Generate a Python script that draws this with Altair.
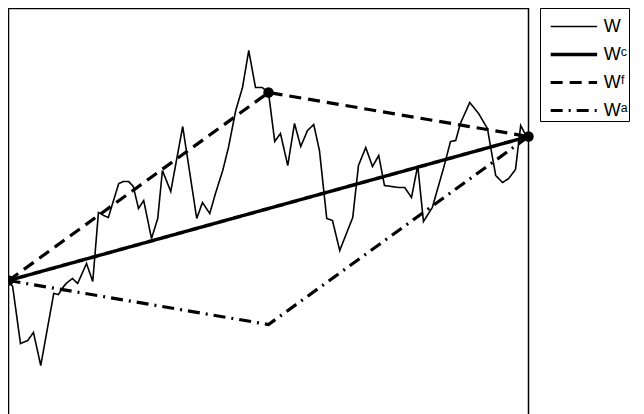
import altair as alt
import pandas as pd

# Brownian path W (t in [0,1])
w_t = [0.000, 0.008, 0.023, 0.037, 0.048, 0.062, 0.087, 0.096, 0.106, 0.113,
       0.123, 0.133, 0.150, 0.162, 0.173, 0.183, 0.192, 0.202, 0.212, 0.221,
       0.231, 0.240, 0.250, 0.260, 0.275, 0.287, 0.296, 0.312, 0.335, 0.362,
       0.373, 0.387, 0.398, 0.412, 0.423, 0.437, 0.450, 0.462, 0.475, 0.488,
       0.500, 0.512, 0.523, 0.537, 0.550, 0.562, 0.575, 0.587, 0.598, 0.612,
       0.623, 0.637, 0.662, 0.673, 0.687, 0.700, 0.712, 0.723, 0.750, 0.762,
       0.775, 0.787, 0.798, 0.815, 0.837, 0.850, 0.860, 0.869, 0.887, 0.904,
       0.921, 0.929, 0.937, 0.950, 0.962, 0.975, 0.985, 0.992, 1.000]
w_v = [0.00, -0.06, -0.63, -0.60, -0.52, -0.85, -0.13, -0.14, -0.06, -0.02,
       0.02, -0.03, 0.17, -0.01, 0.68, 0.65, 0.63, 0.80, 0.97, 0.99,
       0.99, 0.94, 0.72, 0.80, 0.42, 0.62, 1.10, 0.89, 1.54, 0.62,
       0.78, 0.67, 0.87, 1.10, 1.33, 1.70, 1.93, 2.30, 1.93, 1.93,
       1.88, 1.39, 1.47, 1.15, 1.57, 1.34, 1.50, 1.56, 1.30, 0.62,
       0.60, 0.30, 0.63, 1.15, 1.33, 1.14, 1.25, 0.95, 0.93, 0.93,
       0.83, 1.15, 0.59, 0.73, 1.13, 1.39, 1.40, 1.57, 1.78, 1.67,
       1.52, 1.28, 1.05, 0.98, 1.02, 1.11, 1.55, 1.48, 1.44]

wc_t = [0.0, 1.0]
wc_v = [0.00, 1.44]
wf_t = [0.0, 0.5, 1.0]
wf_v = [0.00, 1.88, 1.44]
wa_t = [0.0, 0.5, 1.0]
wa_v = [0.00, -0.44, 1.44]

dot_t = [0.0, 0.5, 1.0]
dot_v = [0.00, 1.88, 1.44]

series = ["W", "Wᶜ", "Wᶠ", "Wᵃ"]

rows = []
for name, ts, vs in zip(series, [w_t, wc_t, wf_t, wa_t], [w_v, wc_v, wf_v, wa_v]):
    for i, (t, v) in enumerate(zip(ts, vs)):
        rows.append({"s": name, "t": t, "v": v, "o": i})
df = pd.DataFrame(rows)
dots = pd.DataFrame({"t": dot_t, "v": dot_v})

xs = alt.Scale(domain=[0, 1], nice=False, zero=False)
ys = alt.Scale(domain=[-1.68, 2.72], nice=False, zero=False)

lines = alt.Chart(df).mark_line(color="black", clip=True).encode(
    x=alt.X("t:Q", scale=xs, axis=None),
    y=alt.Y("v:Q", scale=ys, axis=None),
    order="o:Q",
    strokeDash=alt.StrokeDash(
        "s:N",
        scale=alt.Scale(domain=series, range=[[1, 0], [1, 0], [12, 7], [12, 6, 2, 6]]),
        legend=alt.Legend(title=None),
    ),
    strokeWidth=alt.StrokeWidth(
        "s:N",
        scale=alt.Scale(type="ordinal", domain=series, range=[1.6, 3.5, 3.2, 3.2]),
        legend=alt.Legend(title=None),
    ),
)

pts = alt.Chart(dots).mark_circle(color="black", opacity=1, size=110).encode(
    x=alt.X("t:Q", scale=xs, axis=None),
    y=alt.Y("v:Q", scale=ys, axis=None),
)

chart = (
    alt.layer(lines, pts)
    .properties(
        width=520,
        height=440,
        autosize=alt.AutoSizeParams(type="none"),
        padding={"left": 0.5, "top": 0.5, "right": 107.5, "bottom": 0},
    )
    .configure_view(stroke="black", strokeWidth=1.5)
    .configure_legend(
        orient="none",
        legendX=531.5,
        legendY=-0.5,
        strokeColor="black",
        fillColor="white",
        padding=1,
        symbolType="M-1.4,0H1.4",
        symbolSize=1100,
        symbolOffset=14.4,
        symbolStrokeColor="black",
        labelFont="Liberation Sans",
        labelFontSize=18,
        labelColor="black",
        labelOffset=11.4,
        rowPadding=0,
    )
)

chart.save("out.html", embed_options={"renderer": "svg", "actions": False})
